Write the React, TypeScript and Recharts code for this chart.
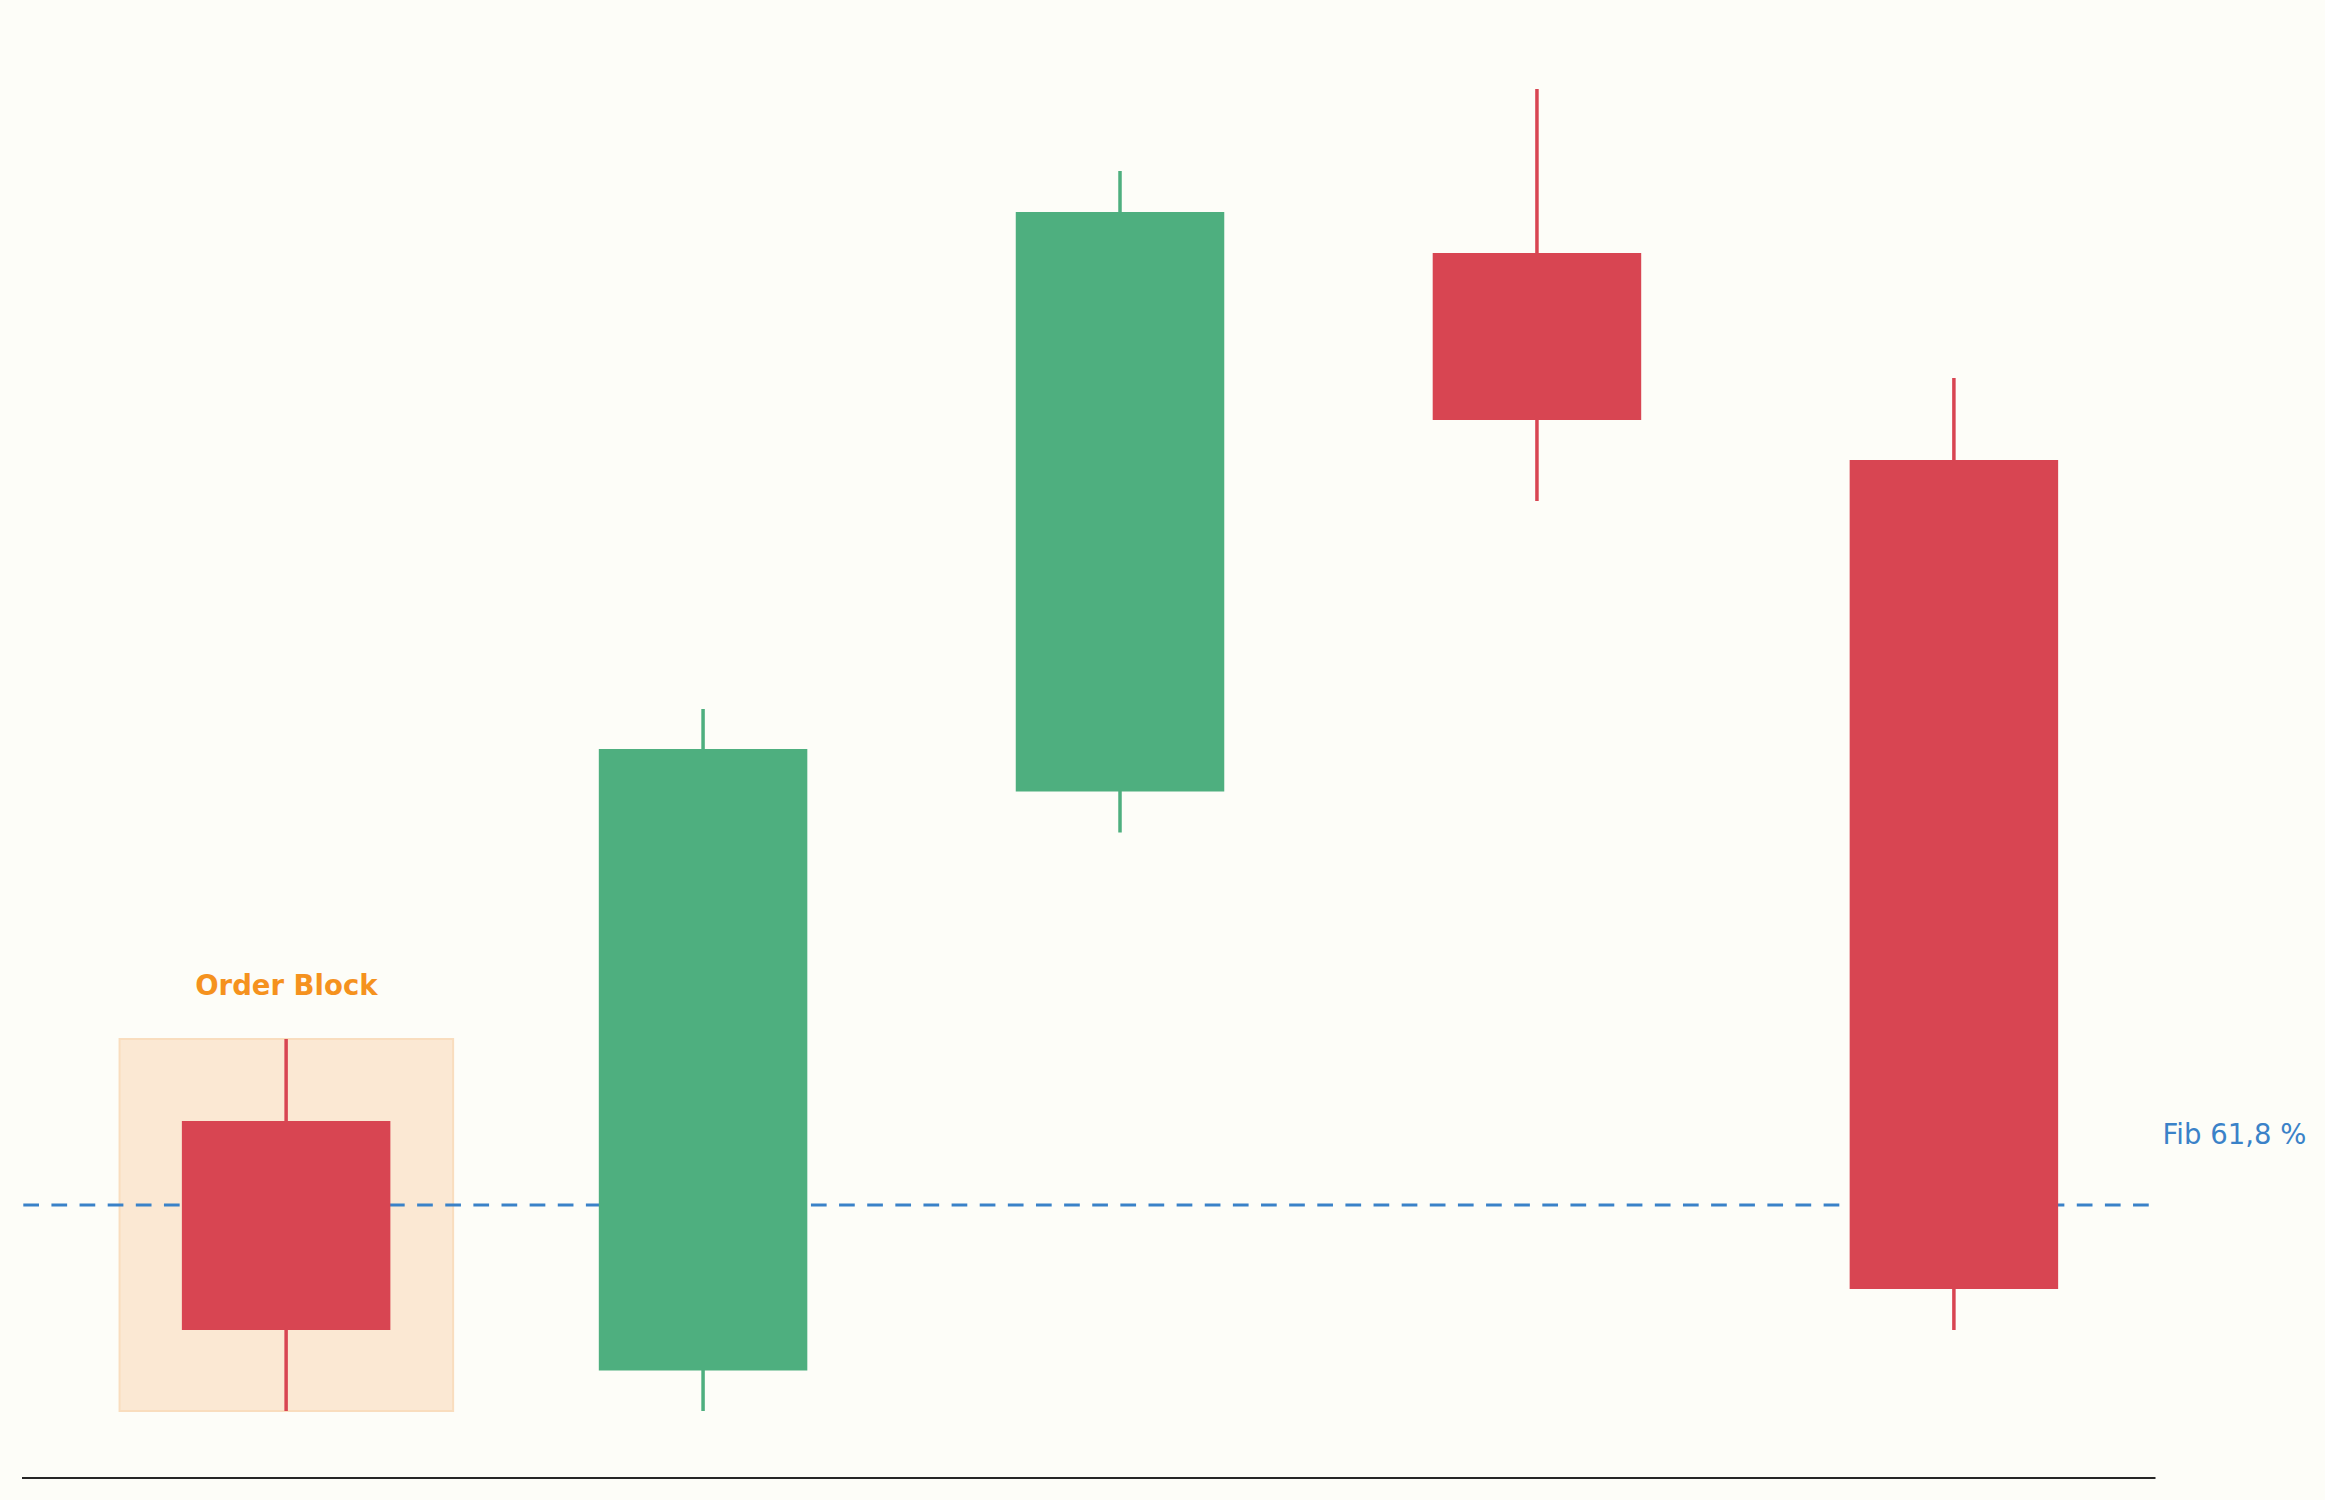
import React from 'react';
import { ComposedChart, Bar, XAxis, YAxis, ReferenceLine, ReferenceArea } from 'recharts';

const categories = ['C1', 'C2', 'C3', 'C4', 'C5'];
const xPositions = [0, 1, 2, 3, 4];
const opens = [35.7, 10.75, 68.65, 122.5, 101.8];
const highs = [43.9, 76.9, 130.7, 138.9, 110.0];
const lows = [6.7, 6.7, 64.55, 97.7, 14.8];
const closes = [14.8, 72.9, 126.6, 105.8, 18.9];
const fibLevel = 27.3;
const fibLabel = 'Fib 61,8 %';
const orderBlockLabel = 'Order Block';
const orderBlockIndex = 0;
const orderBlockHalfWidth = 0.4;

const GREEN = '#4EAF7F';
const RED = '#D84552';
const BG = '#FDFDF8';
const FONT = '"DejaVu Sans", sans-serif';

const data = categories.map((name, i) => ({
  name,
  x: xPositions[i],
  open: opens[i],
  high: highs[i],
  low: lows[i],
  close: closes[i],
}));

const CandleShape = (props: any) => {
  const { x, y, width, height, payload } = props;
  if (!payload) return null;
  const top = Math.min(y, y + height);
  const h = Math.abs(height);
  const range = payload.high - payload.low;
  const ratio = range > 0 ? h / range : 0;
  const bodyHi = Math.max(payload.open, payload.close);
  const bodyLo = Math.min(payload.open, payload.close);
  const bodyTop = top + (payload.high - bodyHi) * ratio;
  const bodyBottom = top + (payload.high - bodyLo) * ratio;
  const cx = x + width / 2;
  const color = payload.close >= payload.open ? GREEN : RED;
  const wickW = 3.5;
  return (
    <g>
      <rect x={cx - wickW / 2} y={top} width={wickW} height={h} fill={color} />
      <rect x={x} y={bodyTop} width={width} height={bodyBottom - bodyTop} fill={color} />
    </g>
  );
};

const FibLabel = (props: any) => {
  const vb = props.viewBox || {};
  return (
    <text
      x={vb.x + vb.width + 7}
      y={vb.y - 61}
      fill="#3A82C8"
      fontSize={27.5}
      fontFamily={FONT}
      textAnchor="start"
    >
      {fibLabel}
    </text>
  );
};

const OBLabel = (props: any) => {
  const vb = props.viewBox || {};
  return (
    <text
      x={vb.x + vb.width / 2}
      y={vb.y - 44}
      fill="#F5921E"
      fontSize={27.5}
      fontWeight="bold"
      fontFamily={FONT}
      textAnchor="middle"
    >
      {orderBlockLabel}
    </text>
  );
};

export default function App() {
  return (
    <div style={{ width: 2325, height: 1500, background: BG, overflow: 'hidden' }}>
      <style>{`html,body{margin:0;padding:0;background:${BG};overflow:hidden;}`}</style>
      <ComposedChart
        width={2325}
        height={1500}
        data={data}
        margin={{ top: 78, right: 169.5, bottom: 22, left: 22 }}
      >
        <XAxis dataKey="x" type="number" domain={[-0.634, 4.483]} hide allowDataOverflow />
        <YAxis type="number" domain={[0, 140]} hide allowDataOverflow />
        <ReferenceArea
          x1={xPositions[orderBlockIndex] - orderBlockHalfWidth}
          x2={xPositions[orderBlockIndex] + orderBlockHalfWidth}
          y1={lows[orderBlockIndex]}
          y2={highs[orderBlockIndex]}
          fill="#FBE8D3"
          fillOpacity={1}
          stroke="#F9DDBE"
          strokeWidth={2}
          ifOverflow="visible"
          label={<OBLabel />}
          zIndex={50}
        />
        <ReferenceLine
          y={fibLevel}
          stroke="#3A82C8"
          strokeWidth={3}
          strokeDasharray="15.7 12.43"
          strokeDashoffset={-1.3}
          ifOverflow="visible"
          label={<FibLabel />}
          zIndex={60}
        />
        <Bar
          dataKey={(d: any) => [d.low, d.high]}
          barSize={208.5}
          shape={<CandleShape />}
          isAnimationActive={false}
          zIndex={300}
        />
        <ReferenceLine y={0} stroke="#262626" strokeWidth={2} ifOverflow="visible" />
      </ComposedChart>
    </div>
  );
}
